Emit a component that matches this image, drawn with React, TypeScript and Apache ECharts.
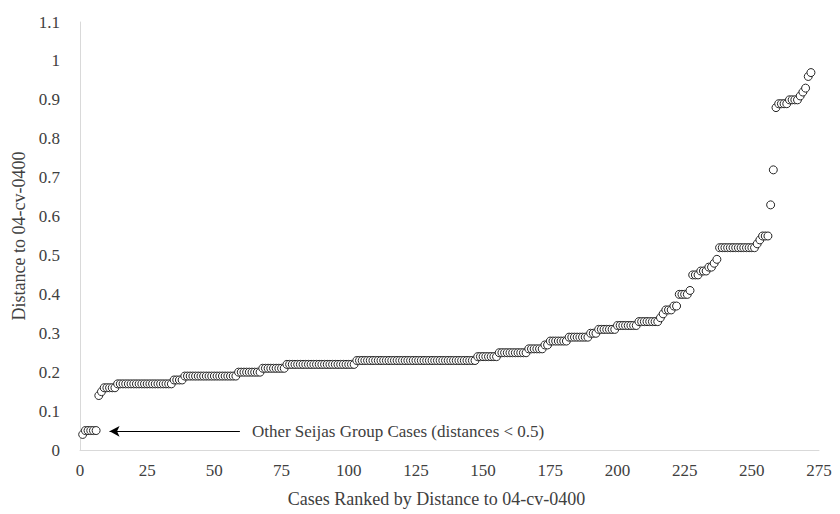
import React, { useEffect, useRef } from "react";
import * as echarts from "echarts";

// Distance values per rank, grouped as (value, count) runs
const runValues = [
  0.04, 0.05, 0.14, 0.15, 0.16, 0.17, 0.18, 0.19, 0.2, 0.21, 0.22, 0.23, 0.24, 0.25, 0.26, 0.27,
  0.28, 0.29, 0.3, 0.31, 0.32, 0.33, 0.34, 0.35, 0.36, 0.37, 0.4, 0.41, 0.45, 0.46, 0.47, 0.48,
  0.49, 0.52, 0.53, 0.54, 0.55, 0.63, 0.72, 0.88, 0.89, 0.9, 0.91, 0.92, 0.93, 0.96, 0.97,
];
const runCounts = [
  1, 5, 1, 1, 5, 21, 4, 20, 9, 9, 26, 45, 8, 11, 6, 2,
  7, 8, 3, 7, 8, 8, 1, 1, 3, 2, 4, 1, 3, 3, 2, 1,
  1, 14, 1, 1, 3, 1, 1, 1, 4, 4, 1, 1, 1, 1, 1,
];
const xTicks = [0, 25, 50, 75, 100, 125, 150, 175, 200, 225, 250, 275];
const yTicks = [0, 0.1, 0.2, 0.3, 0.4, 0.5, 0.6, 0.7, 0.8, 0.9, 1, 1.1];
const arrowFrom = [59.5, 0.048];
const arrowTo = [11, 0.048];
const annotation = "Other Seijas Group Cases (distances < 0.5)";

const FONT = "'Liberation Serif', 'DejaVu Serif', serif";
const TXT = "#404040";

export default function App() {
  const ref = useRef<HTMLDivElement>(null);
  useEffect(() => {
    if (!ref.current) return;
    const chart = echarts.init(ref.current, undefined, { renderer: "svg" });
    const points: number[][] = [];
    let rank = 1;
    runValues.forEach((v, i) => {
      for (let k = 0; k < runCounts[i]; k++) {
        points.push([rank, v]);
        rank++;
      }
    });
    chart.setOption({
      animation: false,
      backgroundColor: "#ffffff",
      grid: { left: 80, right: 21, top: 22, bottom: 64, containLabel: false },
      xAxis: {
        type: "value",
        min: xTicks[0],
        max: xTicks[xTicks.length - 1],
        interval: 25,
        name: "Cases Ranked by Distance to 04-cv-0400",
        nameLocation: "middle",
        nameGap: 40,
        nameTextStyle: { fontFamily: FONT, fontSize: 18, color: TXT, padding: [0, 26, 0, 0] },
        axisLine: { show: true, lineStyle: { color: "#d9d9d9", width: 1 } },
        axisTick: { show: false },
        splitLine: { show: false },
        axisLabel: { fontFamily: FONT, fontSize: 17, color: TXT, margin: 12 },
      },
      yAxis: {
        type: "value",
        min: yTicks[0],
        max: yTicks[yTicks.length - 1],
        interval: 0.1,
        name: "Distance to 04-cv-0400",
        nameLocation: "middle",
        nameGap: 47,
        nameTextStyle: { fontFamily: FONT, fontSize: 18, color: TXT },
        axisLine: { show: true, lineStyle: { color: "#d9d9d9", width: 1 } },
        axisTick: { show: false },
        splitLine: { show: false },
        axisLabel: {
          fontFamily: FONT,
          fontSize: 17,
          color: TXT,
          margin: 20,
          formatter: (v: number) => String(Math.round(v * 10) / 10),
        },
      },
      series: [
        {
          type: "scatter",
          data: points,
          symbol: "circle",
          symbolSize: 8,
          itemStyle: { color: "#ffffff", borderColor: "#262626", borderWidth: 1, opacity: 1 },
          markLine: {
            silent: true,
            symbol: ["none", "arrow"],
            symbolSize: [8, 10],
            lineStyle: { color: "#000000", width: 1, type: "solid" },
            label: {
              show: true,
              position: "start",
              distance: 12,
              formatter: annotation,
              fontFamily: FONT,
              fontSize: 17,
              color: TXT,
            },
            data: [[{ coord: arrowFrom }, { coord: arrowTo }]],
          },
        },
      ],
    });
    return () => chart.dispose();
  }, []);
  return (
    <div
      ref={ref}
      style={{ position: "absolute", left: 0, top: 0, width: 840, height: 514 }}
    />
  );
}
